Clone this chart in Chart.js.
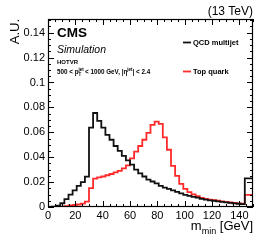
<!DOCTYPE html>
<html>
<head>
<meta charset="utf-8">
<script src="https://cdn.jsdelivr.net/npm/chart.js@4.4.0/dist/chart.umd.min.js"></script>
<style>
html, body { margin: 0; padding: 0; background: #fff; }
#wrap { position: relative; width: 266px; height: 244px; }
</style>
</head>
<body>
<div id="wrap"><canvas id="chart" width="266" height="244"></canvas></div>
<script>
// bin edges (GeV), 3 GeV bins
const binEdges = [0, 3, 6, 9, 12, 15, 18, 21, 24, 27, 30, 33, 36, 39, 42, 45, 48, 51, 54, 57,
    60, 63, 66, 69, 72, 75, 78, 81, 84, 87, 90, 93, 96, 99, 102, 105, 108, 111, 114, 117,
    120, 123, 126, 129, 132, 135, 138, 141, 144, 147, 150];

const qcdValues = [0, 0, 0.0003, 0.001, 0.003, 0.0064, 0.010, 0.0134, 0.0169, 0.0199,
    0.0244, 0.0638, 0.0755, 0.0692, 0.0638, 0.058, 0.054, 0.049, 0.045, 0.041,
    0.0375, 0.034, 0.030, 0.027, 0.0245, 0.022, 0.0205, 0.019, 0.017, 0.0155,
    0.0145, 0.0133, 0.0122, 0.011, 0.0098, 0.0089, 0.0081, 0.0075, 0.0066, 0.006,
    0.0054, 0.005, 0.0045, 0.0041, 0.0037, 0.0033, 0.0029, 0.0026, 0.0023, 0.023];

const topValues = [0, 0, 0, 0.0002, 0.0003, 0.0006, 0.0012, 0.0016, 0.002, 0.0027,
    0.0043, 0.0152, 0.0228, 0.0238, 0.0245, 0.0255, 0.0265, 0.0278, 0.029, 0.031,
    0.0335, 0.039, 0.0445, 0.049, 0.054, 0.0595, 0.066, 0.0685, 0.0668, 0.056,
    0.046, 0.033, 0.025, 0.0185, 0.0145, 0.012, 0.0102, 0.0088, 0.0074, 0.0066,
    0.006, 0.0055, 0.005, 0.0045, 0.004, 0.0036, 0.0032, 0.0029, 0.0026, 0.0097];

const seriesNames = ["QCD multijet", "Top quark"];
const xTicks = [0, 20, 40, 60, 80, 100, 120, 140];
const yTicks = [0, 0.02, 0.04, 0.06, 0.08, 0.1, 0.12, 0.14];

const FONT = "Liberation Sans";
const RED = "#ff2a2a";

// histogram outline points: step from each bin's low edge, close at last edge
function histPoints(vals) {
    const pts = vals.map((v, i) => ({ x: binEdges[i], y: v }));
    const last = binEdges[binEdges.length - 1];
    pts.push({ x: last, y: vals[vals.length - 1] });
    pts.push({ x: last, y: 0 });
    return pts;
}

// frame + inward ticks, root style
const frameTicks = {
    id: "frameTicks",
    afterDatasetsDraw(chart) {
        const ctx = chart.ctx, a = chart.chartArea;
        const xs = chart.scales.x, ys = chart.scales.y;
        ctx.save();
        ctx.strokeStyle = "#000";
        ctx.lineWidth = 1;
        ctx.beginPath();
        for (let v = 0; v <= 150; v += 5) {
            const px = Math.round(xs.getPixelForValue(v)) + 0.5;
            const len = v % 20 === 0 ? 6 : 3;
            ctx.moveTo(px, a.bottom); ctx.lineTo(px, a.bottom - len);
            ctx.moveTo(px, a.top); ctx.lineTo(px, a.top + len);
        }
        for (let k = 0; k <= 30; k++) {
            const v = k * 0.005;
            const py = Math.round(ys.getPixelForValue(v)) + 0.5;
            const len = k % 4 === 0 ? 6 : 3;
            ctx.moveTo(a.left, py); ctx.lineTo(a.left + len, py);
            ctx.moveTo(a.right, py); ctx.lineTo(a.right - len, py);
        }
        ctx.stroke();
        ctx.lineWidth = 1.2;
        ctx.strokeRect(a.left + 0.5, a.top + 0.5, a.right - a.left - 1, a.bottom - a.top - 1);
        ctx.restore();
    },
    afterDraw(chart) {
        const ctx = chart.ctx;
        ctx.save();
        ctx.fillStyle = "#000";
        ctx.textBaseline = "alphabetic";

        // energy label
        ctx.font = "12px '" + FONT + "'";
        ctx.textAlign = "right";
        ctx.fillText("(13 TeV)", 253, 15);

        // y title
        ctx.save();
        ctx.translate(18.5, 19);
        ctx.rotate(-Math.PI / 2);
        ctx.font = "13px '" + FONT + "'";
        ctx.textAlign = "right";
        ctx.fillText("A.U.", 0, 0);
        ctx.restore();

        // CMS label
        ctx.textAlign = "left";
        ctx.font = "bold 13.5px '" + FONT + "'";
        ctx.fillText("CMS", 57, 37);
        ctx.font = "italic 10.5px '" + FONT + "'";
        ctx.fillText("Simulation", 57, 53);
        ctx.font = "bold 6px '" + FONT + "'";
        ctx.fillText("HOTVR", 57, 64);

        // kinematic selection
        let x = 57;
        const yb = 74;
        const put = (t, size, dy) => {
            ctx.font = "bold " + size + "px '" + FONT + "'";
            ctx.fillText(t, x, yb + dy);
            return ctx.measureText(t).width;
        };
        x += put("500 < p", 6.3, 0);
        const wSub = put("T", 4.5, 1.8);
        put("jet", 4.5, -3.2);
        x += Math.max(wSub, ctx.measureText("jet").width) + 1.2;
        x += put("< 1000 GeV, |\u03B7", 6.3, 0);
        x += put("jet", 4.5, -3.2);
        put("| < 2.4", 6.3, 0);

        // legend
        const leg = [[seriesNames[0], "#111", 42.5], [seriesNames[1], RED, 71.5]];
        leg.forEach(([name, col, ly]) => {
            ctx.strokeStyle = col;
            ctx.lineWidth = 1.8;
            ctx.beginPath();
            ctx.moveTo(183, ly); ctx.lineTo(191, ly);
            ctx.stroke();
            ctx.font = "bold 7.5px '" + FONT + "'";
            ctx.fillText(name, 193, ly + 2.7);
        });

        // x title, right aligned
        ctx.font = "13px '" + FONT + "'";
        const wM = ctx.measureText("m").width;
        const wG = ctx.measureText(" [GeV]").width;
        ctx.font = "9px '" + FONT + "'";
        const wMin = ctx.measureText("min").width;
        let tx = 253 - (wM + wMin + wG);
        ctx.font = "13px '" + FONT + "'";
        ctx.fillText("m", tx, 230);
        tx += wM;
        ctx.font = "9px '" + FONT + "'";
        ctx.fillText("min", tx, 234);
        tx += wMin;
        ctx.font = "13px '" + FONT + "'";
        ctx.fillText(" [GeV]", tx, 230);
        ctx.restore();
    }
};

new Chart(document.getElementById("chart").getContext("2d"), {
    type: "line",
    data: {
        datasets: [{
            label: seriesNames[0],
            data: histPoints(qcdValues),
            borderColor: "#111",
            borderWidth: 1.8,
            stepped: "after",
            pointRadius: 0,
            fill: false
        }, {
            label: seriesNames[1],
            data: histPoints(topValues),
            borderColor: RED,
            borderWidth: 1.8,
            stepped: "after",
            pointRadius: 0,
            fill: false
        }]
    },
    options: {
        responsive: false,
        animation: false,
        layout: { padding: { left: 0, right: 13, top: 19, bottom: 0 } },
        plugins: { legend: { display: false }, tooltip: { enabled: false } },
        scales: {
            x: {
                type: "linear",
                min: 0,
                max: 150,
                grid: { display: false, drawTicks: false },
                border: { display: false },
                afterBuildTicks: s => { s.ticks = xTicks.map(v => ({ value: v })); },
                afterFit: s => { s.height = 37; },
                ticks: {
                    autoSkip: false,
                    maxRotation: 0,
                    padding: 2,
                    color: "#000",
                    font: { family: FONT, size: 11 }
                }
            },
            y: {
                type: "linear",
                min: 0,
                max: 0.151,
                grid: { display: false, drawTicks: false },
                border: { display: false },
                afterBuildTicks: s => { s.ticks = yTicks.map(v => ({ value: v })); },
                afterFit: s => { s.width = 48; },
                ticks: {
                    padding: 3,
                    color: "#000",
                    font: { family: FONT, size: 11 },
                    callback: v => v === 0 ? "0" : String(+v.toFixed(2))
                }
            }
        }
    },
    plugins: [frameTicks]
});
</script>
</body>
</html>
